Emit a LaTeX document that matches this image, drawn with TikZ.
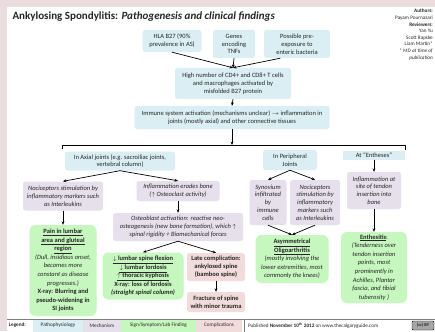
\documentclass[tikz,border=0pt]{standalone}
\usepackage{fontspec}
\setmainfont{Carlito}
\usepackage{tikz}
\usetikzlibrary{arrows.meta,calc}
\definecolor{Ink}{HTML}{262626}
\definecolor{FramePink}{HTML}{EADCDF}
\definecolor{PathoBlue}{HTML}{DAEEF3}
\definecolor{MechLilac}{HTML}{E5E0EC}
\definecolor{SignGreen}{HTML}{C6F7BE}
\definecolor{CompPink}{HTML}{F2DCDB}
\definecolor{RuleGrey}{HTML}{7F7F7F}
\newcommand{\asBody}{\fontsize{6.5}{7.8}\selectfont}
\newcommand{\asLoose}{\fontsize{6.5}{8.6}\selectfont}
\newcommand{\asSmall}{\fontsize{5.2}{6.6}\selectfont}

\begin{document}
\begin{tikzpicture}[x=1pt,y=-1pt]
  \path[use as bounding box] (0,0) rectangle (435,331);
  \tikzset{
    asPatho/.style={
      fill=PathoBlue, draw=none, rounded corners=2.5pt,
      align=center, inner sep=1.5pt, font=\asBody, text=Ink
    },
    asMech/.style={asPatho,fill=MechLilac,font=\asBody\itshape},
    asSign/.style={asPatho,fill=SignGreen,rounded corners=6pt,font=\asLoose},
    asComp/.style={asPatho,fill=CompPink,font=\asBody\bfseries},
    asFlow/.style={
      -{Stealth[length=3.4pt,width=2.8pt]}, draw=black,
      line width=.7pt
    },
    asLegend/.style={
      inner sep=0pt, outer sep=0pt, minimum height=12pt,
      font=\asSmall, text=Ink
    }
  }
  \fill[FramePink] (0,0) rectangle (435,331);
  \fill[white] (7,7) rectangle (435,331);

  \node[anchor=west,font=\fontsize{11}{13}\selectfont\bfseries,text=Ink] (title) at (9,17)
    {Ankylosing Spondylitis: \textit{Pathogenesis and clinical findings}};
  \node[anchor=north east,align=right,font=\asSmall,text=Ink,inner sep=0pt] (credits) at (433,9)
    {\textbf{Authors:}\\Payam Pournazari\\\textbf{Reviewers:}\\Yan Yu\\Scott Rapske\\Liam Martin*\\\textit{* MD at time of}\\\textit{publication}};

  % causes
  \node[asPatho,minimum width=59pt,minimum height=22pt] (hla) at (172,41)
    {HLA B27 (90\%\\prevalence in AS)};
  \node[asPatho,minimum width=42pt,minimum height=28pt] (genes) at (234,44)
    {Genes\\encoding\\TNFs};
  \node[asPatho,minimum width=66pt,minimum height=28pt] (enteric) at (297,44)
    {Possible pre-\\exposure to\\enteric bacteria};
  \node[asPatho,minimum width=116pt,minimum height=31pt] (tcells) at (233,83.5)
    {High number of CD4+ and CD8+ T cells\\and macrophages activated by\\misfolded B27 protein};
  \node[asPatho,minimum width=195pt,minimum height=23pt] (immune) at (232,117.5)
    {Immune system activation (mechanisms unclear) $\rightarrow$ inflammation in\\joints (mostly axial) and other connective tissues};

  \draw[asFlow] (hla.south) -- (tcells.north);
  \draw[asFlow] (genes.south) -- (tcells.north);
  \draw[asFlow] ($(enteric.south)!.5!(enteric.south west)$) -- (tcells.north);
  \draw[asFlow] (tcells.south) -- (immune.north);

  % split into axial / peripheral / entheses
  \coordinate (splitL) at (62,149);
  \coordinate (splitR) at (405,150);
  \coordinate (splitMid) at (232,145);
  \draw[line width=.8pt] (splitL) -- ++(0,-4) -| (splitR);
  \draw[asFlow] (immune.south) -- (splitMid);

  \node[asPatho,minimum width=110pt,minimum height=19pt] (axial) at (120,161)
    {In Axial joints (e.g. sacroiliac joints,\\vertebral column)};
  \node[asPatho,minimum width=54pt,minimum height=20pt] (periph) at (290,160)
    {In Peripheral\\Joints};
  \node[asPatho,rounded corners=0pt,minimum width=62pt,minimum height=9pt,inner sep=.5pt] (enthes) at (374,155)
    {At ``Entheses''};

  % axial branch
  \node[asMech,minimum width=80pt,minimum height=29pt] (noci) at (63,196)
    {Nociceptors stimulation by\\inflammatory markers such\\as Interleukins};
  \node[asMech,minimum width=83pt,minimum height=20pt] (erodes) at (178,191)
    {Inflammation erodes bone\\($\uparrow$ Osteoclast activity)};
  \node[asMech,minimum width=130pt,minimum height=28pt] (osteo) at (178,227)
    {Osteoblast activation: reactive neo-\\osteogenesis (new bone formation), which $\uparrow$\\spinal rigidity + Biomechanical forces};
  \node[asSign,minimum width=67pt,minimum height=91pt] (pain) at (63,270.5)
    {\textbf{\underline{Pain in lumbar}}\\\textbf{\underline{area and gluteal}}\\\textbf{\underline{region}}\\
     \textit{(Dull, insidious onset,}\\\textit{becomes more}\\\textit{constant as disease}\\\textit{progresses.)}\\
     \textbf{X-ray: Blurring and}\\\textbf{pseudo-widening in}\\\textbf{SI joints}};
  \node[asSign,minimum width=81pt,minimum height=47pt] (lumbar) at (143,276)
    {\textbf{\underline{$\downarrow$ lumbar spine flexion}}\\\textbf{\underline{$\downarrow$ lumbar lordosis}}\\\textbf{\underline{$\uparrow$ thoracic kyphosis}}\\
     \textbf{X-ray: loss of lordosis}\\\textbf{\textit{(straight spinal column)}}};
  \node[asComp,minimum width=58pt,minimum height=28pt] (bamboo) at (216,267)
    {Late complication:\\ankylosed spine\\(bamboo spine)};
  \node[asComp,minimum width=58pt,minimum height=20pt] (fracture) at (216,302)
    {Fracture of spine\\with minor trauma};

  \draw[asFlow] (axial.south) -- (noci.north);
  \draw[asFlow] (axial.south) -- (erodes.north);
  \draw[asFlow] (noci.south) -- (pain.north);
  \draw[asFlow] (erodes.south) -- (osteo.north);
  \draw[asFlow] (osteo.south) -- (lumbar.north);
  \draw[asFlow] (osteo.south) -- (bamboo.north);
  \draw[asFlow] (bamboo.south) -- (fracture.north);

  % peripheral branch
  \node[asMech,minimum width=37pt,minimum height=45pt] (synov) at (268,202.5)
    {Synovium\\infiltrated\\by\\immune\\cells};
  \node[asMech,minimum width=50pt,minimum height=45pt] (noci2) at (315,202.5)
    {Nociceptors\\stimulation by\\inflammatory\\markers such\\as Interleukins};
  \node[asSign,minimum width=73pt,minimum height=48pt] (oligo) at (292,259)
    {\textbf{\underline{Asymmetrical}}\\\textbf{\underline{Oligoarthritis}}\\
     \textit{(mostly involving the}\\\textit{lower extremities, most}\\\textit{commonly the knees)}};

  \draw[asFlow] (periph.south) -- (synov.north);
  \draw[asFlow] (periph.south) -- (noci2.north);
  \draw[asFlow] (synov.south) -- (oligo.north);
  \draw[asFlow] (noci2.south) -- (oligo.north);

  % entheses branch
  \node[asMech,minimum width=54pt,minimum height=37pt] (tendon) at (374,190.5)
    {Inflammation at\\site of tendon\\insertion into\\bone};
  \node[asSign,minimum width=66pt,minimum height=71pt] (enthesitis) at (374,267.5)
    {\textbf{\underline{Enthesitis}}:\\\textit{(Tenderness over}\\\textit{tendon insertion}\\\textit{points, most}\\\textit{prominently in}\\
     \textit{Achilles, Plantar}\\\textit{fascia, and tibial}\\\textit{tuberosity )}};

  \draw[asFlow] (enthes.south) -- (tendon.north);
  \draw[asFlow] (tendon.south) -- (enthesitis.north);

  % legend
  \draw[RuleGrey,line width=.6pt] (7,319) -- (435,319);
  \node[asLegend,anchor=west] (legendHead) at (9,325.5) {\textbf{Legend:}};
  \node[asLegend,fill=PathoBlue,minimum width=50pt] (legPatho) at (58,325.5) {Pathophysiology};
  \node[asLegend,fill=MechLilac,minimum width=38pt] (legMech) at (102,325.5) {Mechanism};
  \node[asLegend,fill=SignGreen,minimum width=75pt] (legSign) at (158.5,325.5) {Sign/Symptom/Lab Finding};
  \node[asLegend,fill=CompPink,minimum width=46pt] (legComp) at (219,325.5) {Complications};
  \draw[RuleGrey,line width=.6pt] (legComp.north east) ++(2,0) -- ++(0,12);
  \node[asLegend,anchor=west] (published) at (248,325.5)
    {Published \textbf{November 10\textsuperscript{th} 2012} on www.thecalgaryguide.com};
  \node[asLegend,draw=black,fill=black!35,minimum width=22pt,minimum height=9pt,rounded corners=1pt,font=\fontsize{4.5}{5}\selectfont\bfseries] (ccLogo) at (423,325.5) {(cc) BY};
\end{tikzpicture}
\end{document}
